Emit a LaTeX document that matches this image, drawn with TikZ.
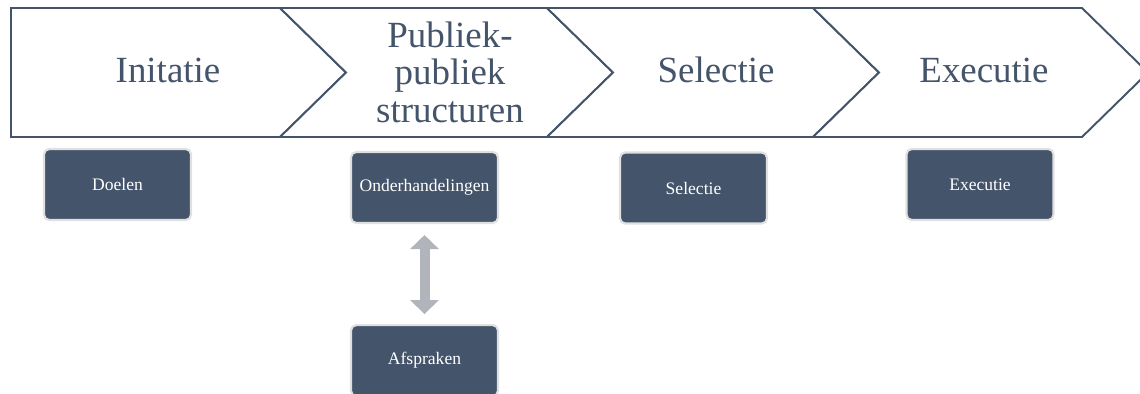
\documentclass[tikz,border=0pt]{standalone}
\usepackage{fontspec}
\setmainfont{Liberation Serif}
\usetikzlibrary{arrows.meta, positioning}
\definecolor{slate}{HTML}{44546A}
\definecolor{arrowgray}{HTML}{B1B4BA}

\begin{document}
\begin{tikzpicture}[
  chev/.style={draw=slate, line width=1.1pt, line join=miter, fill=white},
  phase/.style={text=slate, font=\fontsize{21}{21.3}\selectfont, align=center},
  tbox/.style={draw=black!12, line width=1.2pt, fill=slate, rounded corners=3pt,
    text=white, font=\fontsize{10}{12}\selectfont,
    minimum width=2.94cm, minimum height=1.42cm, align=center},
  dbl/.style={{Triangle[width=0.56cm, length=0.28cm]}-{Triangle[width=0.56cm, length=0.28cm]},
    line width=0.2cm, arrowgray}
]
  \useasboundingbox (0,0) rectangle (22.8,-7.88);

  %% CHEVRON ROW
  \draw[chev] (0.22,-0.16) -- (5.60,-0.16) -- (6.92,-1.45) -- (5.60,-2.74)
    -- (0.22,-2.74) -- cycle;
  \foreach \l/\r in {5.60/10.94, 10.94/16.26, 16.26/21.64}
    \draw[chev] (\l,-0.16) -- (\r,-0.16) -- (\r+1.32,-1.45) -- (\r,-2.74)
      -- (\l,-2.74) -- (\l+1.32,-1.45) -- cycle;

  \node[phase] (initatie) at (3.36,-1.40) {Initatie};
  \node[phase] (publiek)  at (9.00,-1.44) {Publiek-\\publiek\\structuren};
  \node[phase] (selectie) at (14.32,-1.40) {Selectie};
  \node[phase] (executie) at (19.68,-1.40) {Executie};

  %% BOXES UNDER THE PHASES
  \node[tbox] (doelen) at (2.35,-3.69) {Doelen};
  \node[tbox] (onder)  at (8.49,-3.75) {Onderhandelingen};
  \node[tbox] (sel)    at (13.87,-3.76) {Selectie};
  \node[tbox] (exec)   at (19.60,-3.69) {Executie};
  \node[tbox, below=2cm of onder] (afspr) {Afspraken};

  %% double arrow between the two
  \draw[dbl, shorten <=0.22cm, shorten >=0.2cm] (onder.south) -- (afspr.north);

\end{tikzpicture}
\end{document}
